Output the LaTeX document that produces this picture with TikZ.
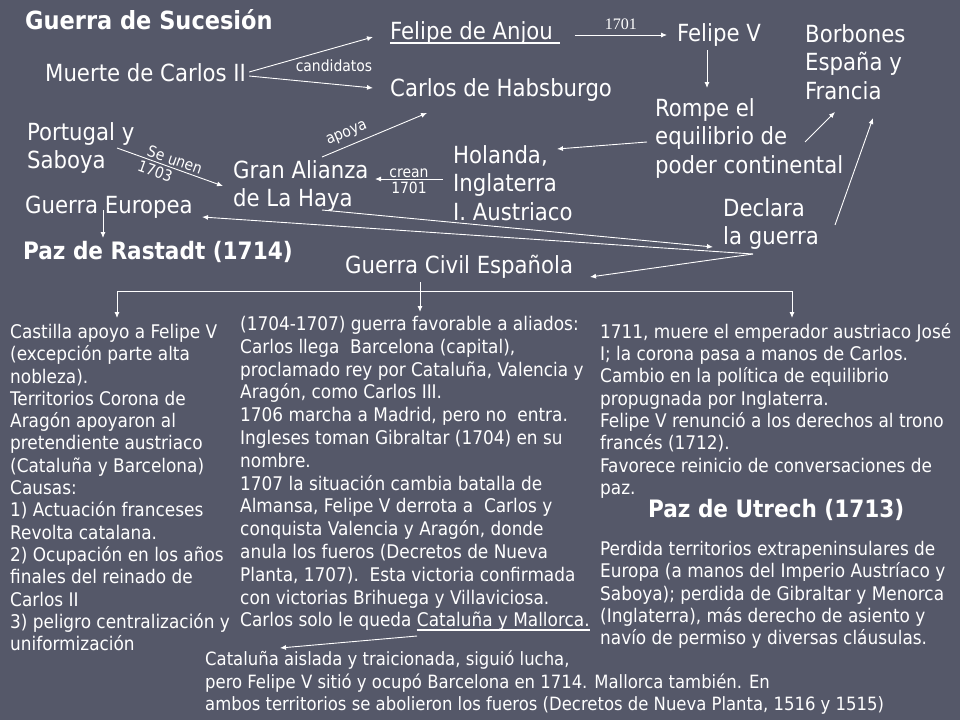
\documentclass[tikz,border=0pt]{standalone}
\usepackage{fontspec}
\setmainfont{DejaVu Sans Condensed}
\newfontfamily\numfont{Liberation Serif}
\usetikzlibrary{arrows.meta}
\definecolor{slide}{RGB}{85,88,105}
\newcommand{\thickul}[1]{\setbox0=\hbox{#1}\rlap{\rule[-4pt]{\wd0}{1.5pt}}\box0}
\tikzset{
    big/.style={text=white, font=\fontsize{23.6}{28.8}\selectfont, align=left, inner sep=0pt},
    body/.style={text=white, font=\fontsize{18.8}{22.3}\selectfont, align=left, anchor=north west, inner sep=0pt},
    heading/.style={text=white, font=\bfseries\fontsize{24}{26}\selectfont, anchor=west, inner sep=0pt},
    lbl/.style={text=white, font=\fontsize{15.5}{16}\selectfont, inner sep=0pt},
    conn/.style={draw=white, line width=0.9pt, -{Latex[length=6pt,width=5pt]}},
}

\begin{document}
\begin{tikzpicture}[x=1pt, y=-1pt]
    %Background
    \fill[slide] (0,0) rectangle (960,720);

    %Top part
    \node[heading, font=\bfseries\fontsize{25}{26}\selectfont] (title) at (25,20) {Guerra de Sucesión};
    \node[big, anchor=west] (muerte) at (45,73) {Muerte de Carlos II};
    \node[big, anchor=west] (anjou) at (390,33) {\thickul{Felipe de Anjou\ }};
    \node[big, anchor=west] (felipeV) at (677,35) {Felipe V};
    \node[big, anchor=north west] (borbones) at (805,24) {Borbones\\España y\\Francia};
    \node[big, anchor=west] (carlosH) at (390,90) {Carlos de Habsburgo};
    \node[big, anchor=north west] (rompe) at (655,98) {Rompe el\\equilibrio de\\poder continental};
    \node[big, anchor=north west] (portugal) at (27,122) {Portugal y\\Saboya};
    \node[big, anchor=north west] (granA) at (233,160) {Gran Alianza\\de La Haya};
    \node[big, anchor=north west] (holanda) at (453,145) {Holanda,\\Inglaterra\\I. Austriaco};
    \node[big, anchor=north west] (declara) at (723,198) {Declara\\la guerra};
    \node[big, anchor=west] (guerraE) at (25,207) {Guerra Europea};
    \node[heading] (rastadt) at (23,252) {Paz de Rastadt (1714)};
    \node[big, anchor=west] (guerraC) at (345,267) {Guerra Civil Española};

    %Connectors
    \draw[conn] ([shift={(3,-1)}]muerte.east) -- ([shift={(-17,4)}]anjou.west);
    \draw[conn] ([shift={(3,3)}]muerte.east) -- ([shift={(-17,-2)}]carlosH.west);
    \node[lbl] (cand) at (334,66) {candidatos};
    \draw[conn] ([shift={(15,2)}]anjou.east) -- node[above=5pt, font=\numfont\fontsize{16}{16}\selectfont, text=white, inner sep=0pt] (anno) {1701} ([shift={(-10,0)}]felipeV.west);
    \draw[conn] ([shift={(30,15)}]felipeV.west) -- ([shift={(52,-10)}]rompe.north west);
    \draw[conn] ([shift={(-8,44)}]rompe.north west) -- ([shift={(104,4)}]holanda.north west);
    \draw[conn] ([shift={(150,44)}]rompe.north west) -- ([shift={(30,88)}]borbones.north west);
    \draw[conn] ([shift={(112,27)}]declara.north west) -- ([shift={(68,94)}]borbones.north west);
    \draw[conn] ([shift={(90,26)}]portugal.north west) --
        node[lbl, sloped, pos=0.52, above=2pt] (seunen) {Se unen}
        node[lbl, sloped, pos=0.39, below=3pt] (anno3) {1703}
        ([shift={(-10,26)}]granA.north west);
    \draw[conn] ([shift={(89,-3)}]granA.north west) --
        node[lbl, sloped, pos=0.28, above=5pt] (apoya) {apoya}
        ([shift={(37,23)}]carlosH.west);
    \draw[conn] ([shift={(-10,34)}]holanda.north west) --
        node[lbl, above=1pt] (crean) {crean}
        node[lbl, below=3pt] (anno1) {1701}
        ([shift={(142,19)}]granA.north west);
    \draw[conn] ([shift={(89,50)}]granA.north west) -- ([shift={(-10,49)}]declara.north west);
    \draw[conn] ([shift={(30,56)}]declara.north west) -- ([shift={(177,10)}]guerraE.west);
    \draw[conn] ([shift={(30,56)}]declara.north west) -- ([shift={(245,10)}]guerraC.west);
    \draw[conn] ([shift={(78,3)}]guerraE.west) -- ([shift={(80,-14)}]rastadt.west);

    %Lower part
    \node[body] (castilla) at (10,324) {Castilla apoyo a Felipe V\\(excepción parte alta\\nobleza).\\Territorios Corona de\\Aragón apoyaron al\\pretendiente austriaco\\(Cataluña y Barcelona)\\Causas:\\1) Actuación franceses\\Revolta catalana.\\2) Ocupación en los años\\finales del reinado de\\Carlos II\\3) peligro centralización y\\uniformización};
    \node[body, font=\fontsize{18.8}{22.8}\selectfont] (aliados) at (240,316) {(1704-1707) guerra favorable a aliados:\\Carlos llega\ \ Barcelona (capital),\\proclamado rey por Cataluña, Valencia y\\Aragón, como Carlos III.\\1706 marcha a Madrid, pero no\ \ entra.\\Ingleses toman Gibraltar (1704) en su\\nombre.\\1707 la situación cambia batalla de\\Almansa, Felipe V derrota a\ \ Carlos y\\conquista Valencia y Aragón, donde\\anula los fueros (Decretos de Nueva\\Planta, 1707).\ \ Esta victoria confirmada\\con victorias Brihuega y Villaviciosa.\\Carlos solo le queda \thickul{Cataluña y Mallorca.}};
    \node[body] (jose) at (600,323) {1711, muere el emperador austriaco José\\I; la corona pasa a manos de Carlos.\\Cambio en la política de equilibrio\\propugnada por Inglaterra.\\Felipe V renunció a los derechos al trono\\francés (1712).\\Favorece reinicio de conversaciones de\\paz.};
    \node[heading] (utrech) at (648,510) {Paz de Utrech (1713)};
    \node[body] (perdida) at (600,541) {Perdida territorios extrapeninsulares de\\Europa (a manos del Imperio Austríaco y\\Saboya); perdida de Gibraltar y Menorca\\(Inglaterra), más derecho de asiento y\\navío de permiso y diversas cláusulas.};
    \node[body, font=\fontsize{18.3}{22.5}\selectfont] (aislada) at (205,651) {Cataluña aislada y traicionada, siguió lucha,\\pero Felipe V sitió y ocupó Barcelona en 1714. Mallorca también. En\\ambos territorios se abolieron los fueros (Decretos de Nueva Planta, 1516 y 1515)};

    \draw[conn] ([shift={(75,15)}]guerraC.west) -- ([shift={(180,-4)}]aliados.north west);
    \draw[conn] ([shift={(75,24)}]guerraC.west) -| ([shift={(107,-6)}]castilla.north west);
    \draw[conn] ([shift={(75,24)}]guerraC.west) -| ([shift={(192,-5)}]jose.north west);
    \draw[conn] ([shift={(177,320)}]aliados.north west) -- ([shift={(75,-3)}]aislada.north west);
\end{tikzpicture}
\end{document}
